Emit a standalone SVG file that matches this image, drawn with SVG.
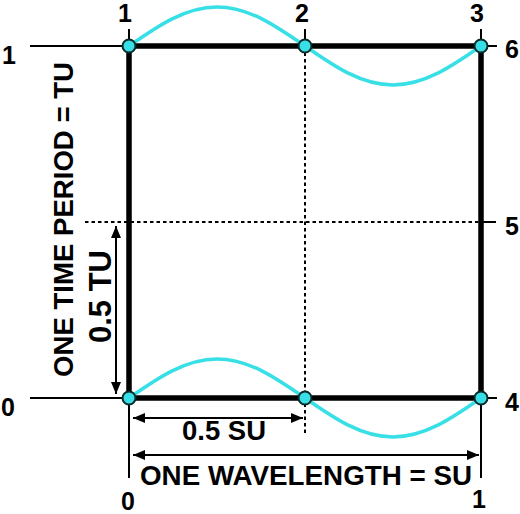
<svg xmlns="http://www.w3.org/2000/svg" width="520" height="514" viewBox="0 0 520 514">
<style>
.thin{stroke:#000;stroke-width:2;fill:none}
.box{stroke:#000;stroke-width:5.5;fill:none}
.dot{stroke:#000;stroke-width:2;fill:none;stroke-dasharray:3.5 3}
.wave{stroke:#38dfe6;stroke-width:3.5;fill:none}
.node{fill:#38dfe6;stroke:#0a2a2a;stroke-width:2}
.lbl{font-family:"Liberation Sans",Arial,sans-serif;font-weight:bold;fill:#000}
.d{font-size:25px;text-anchor:middle}
.t{font-size:27px;text-anchor:middle}
.arr{stroke:#000;stroke-width:2;fill:none;marker-start:url(#ah);marker-end:url(#ah)}
</style>
<defs>
<marker id="ah" viewBox="0 0 12 10" refX="12" refY="5" markerWidth="12" markerHeight="10" markerUnits="userSpaceOnUse" orient="auto-start-reverse">
<path d="M0,0 L12,5 L0,10 z" fill="#000"/>
</marker>
</defs>
<rect width="520" height="514" fill="#fff"/>
<g id="connectors">
<line class="thin" x1="30" y1="46" x2="129" y2="46"/>
<line class="thin" x1="30" y1="398" x2="129" y2="398"/>
<line class="thin" x1="129" y1="29" x2="129" y2="46"/>
<line class="thin" x1="305" y1="29" x2="305" y2="46"/>
<line class="thin" x1="481" y1="29" x2="481" y2="46"/>
<line class="thin" x1="481" y1="46" x2="497" y2="46"/>
<line class="thin" x1="481" y1="222" x2="496" y2="222"/>
<line class="thin" x1="481" y1="398" x2="497" y2="398"/>
<line class="thin" x1="129" y1="398" x2="129" y2="478"/>
<line class="thin" x1="481" y1="398" x2="481" y2="478"/>
<line class="dot" x1="305" y1="46" x2="305" y2="433"/>
<line class="dot" x1="85" y1="222" x2="481" y2="222"/>
<rect class="box" x="129" y="46" width="352" height="352"/>
<path class="wave" d="M129,46 C158.42,25.52 185.49,7 217,7 C248.51,7 275.58,25.52 305,46 C334.42,66.48 361.49,85 393,85 C424.51,85 451.58,66.48 481,46"/>
<path class="wave" d="M129,398 C158.42,377.52 185.49,359 217,359 C248.51,359 275.58,377.52 305,398 C334.42,418.48 361.49,437 393,437 C424.51,437 451.58,418.48 481,398"/>
<line class="arr" x1="116" y1="226" x2="116" y2="394"/>
<line class="arr" x1="133" y1="418" x2="303" y2="418"/>
<line class="arr" x1="133" y1="455" x2="479" y2="455"/>
</g>
<g id="n1"><circle class="node" cx="129" cy="46" r="6.5"/></g>
<g id="n2"><circle class="node" cx="305" cy="46" r="6.5"/></g>
<g id="n3"><circle class="node" cx="481" cy="46" r="6.5"/></g>
<g id="n4"><circle class="node" cx="129" cy="398" r="6.5"/></g>
<g id="n5"><circle class="node" cx="305" cy="398" r="6.5"/></g>
<g id="n6"><circle class="node" cx="481" cy="398" r="6.5"/></g>
<g id="labels" class="lbl">
<text class="d" x="125" y="22">1</text>
<text class="d" x="302" y="22">2</text>
<text class="d" x="477" y="22">3</text>
<text class="d" x="9" y="64">1</text>
<text class="d" x="8" y="416">0</text>
<text class="d" x="512" y="58">6</text>
<text class="d" x="512" y="235">5</text>
<text class="d" x="512" y="411">4</text>
<text class="d" x="128" y="510">0</text>
<text class="d" x="479" y="508">1</text>
<text class="t" x="224" y="440" textLength="84" lengthAdjust="spacingAndGlyphs">0.5 SU</text>
<text class="t" x="306" y="485" textLength="332" lengthAdjust="spacingAndGlyphs">ONE WAVELENGTH = SU</text>
<text class="t" transform="translate(73,219.5) rotate(-90)" textLength="315" lengthAdjust="spacingAndGlyphs">ONE TIME PERIOD = TU</text>
<text class="t" style="font-size:31px" transform="translate(111,296.5) rotate(-90)" textLength="93" lengthAdjust="spacingAndGlyphs">0.5 TU</text>
</g>
</svg>
